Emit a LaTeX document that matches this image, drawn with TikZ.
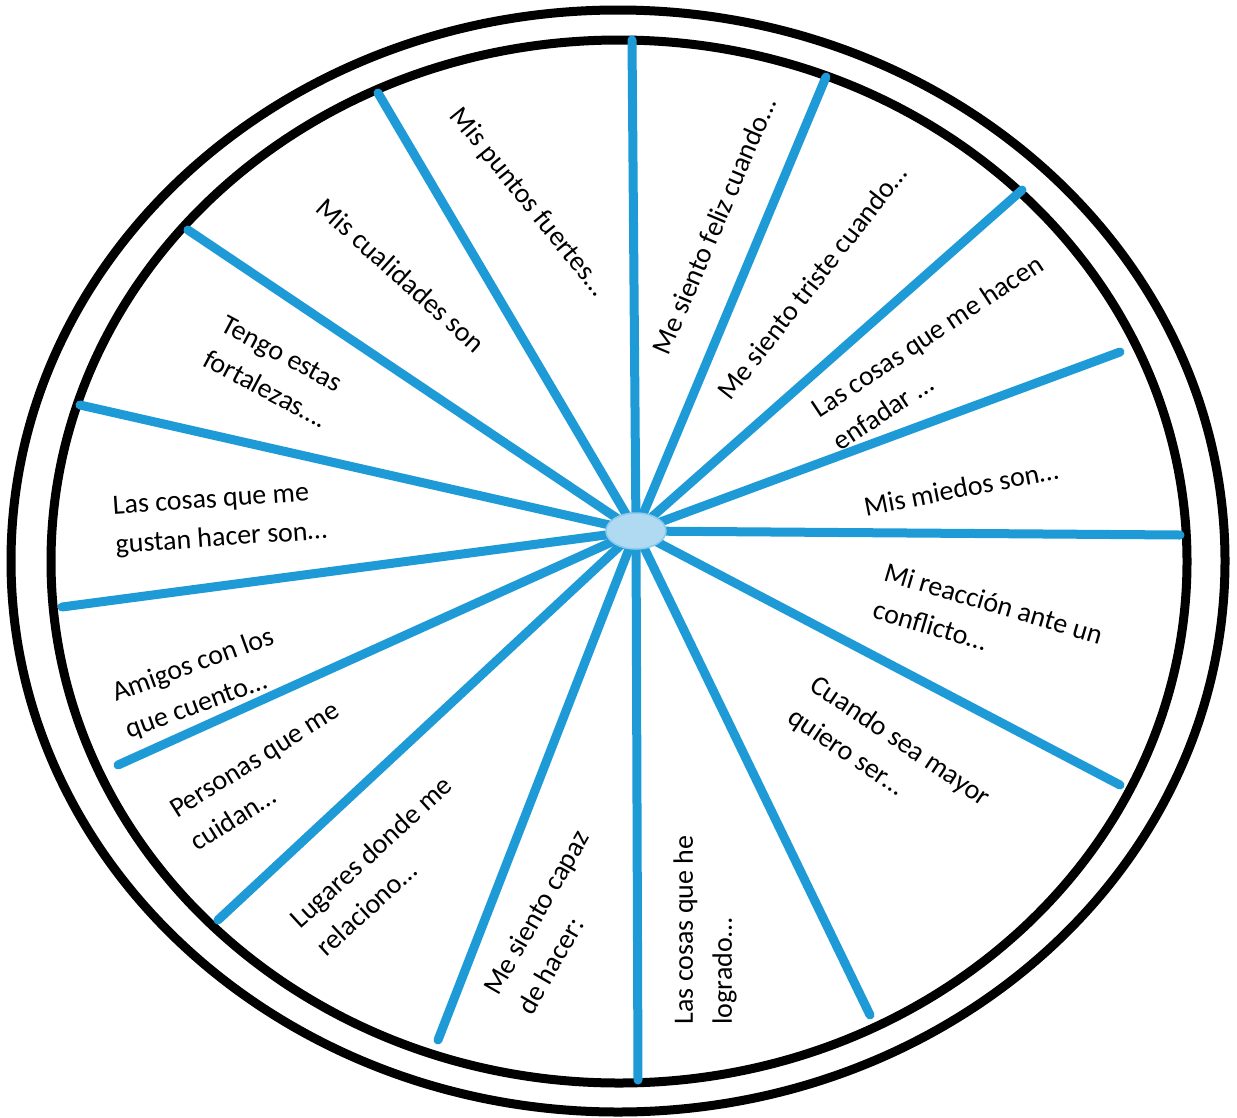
\documentclass[tikz,border=0pt]{standalone}
\usepackage{fontspec}
\setmainfont{Carlito}
\usetikzlibrary{shapes.geometric}
\definecolor{spokeblue}{RGB}{30,155,215}
\definecolor{hubfill}{RGB}{176,218,242}
\definecolor{hubline}{RGB}{140,202,236}
\begin{document}
\begin{tikzpicture}[x=1pt,y=-1pt,
  rim/.style={draw=black,line width=9pt},
  spoke/.style={draw=spokeblue,line width=9pt,line cap=round},
  lbl/.style={font=\fontsize{28}{39}\selectfont,align=left,inner sep=0pt,text=black},
  hubst/.style={ellipse,fill=hubfill,draw=hubline,line width=1.5pt,minimum width=60pt,minimum height=36pt,inner sep=0pt}]
\useasboundingbox[fill=white] (0,0) rectangle (1237,1117);
% rims
\draw[rim] (618,561) ellipse [x radius=607pt, y radius=551pt];
\draw[rim] (619,561.5) ellipse [x radius=568pt, y radius=521.5pt];
% hub centre and spoke ends
\coordinate (c) at (636,531);
\coordinate (e1) at (632,40);
\coordinate (e2) at (826,77);
\coordinate (e3) at (1022,190);
\coordinate (e4) at (1120,352);
\coordinate (e5) at (1180,535);
\coordinate (e6) at (1120,785);
\coordinate (e7) at (870,1015);
\coordinate (e8) at (638,1080);
\coordinate (e9) at (438,1040);
\coordinate (e10) at (218,920);
\coordinate (e11) at (118,765);
\coordinate (e12) at (62,607);
\coordinate (e13) at (80,405);
\coordinate (e14) at (188,230);
\coordinate (e15) at (378,93);
\foreach \i in {1,...,15} \draw[spoke] (c) -- (e\i);
\node[hubst] (hub) at (c) {};
% labels
\node[lbl,rotate=-51] (l1) at (528,202) {Mis puntos fuertes…};
\node[lbl,rotate=67] (l2) at (714,226) {Me siento feliz cuando…};
\node[lbl,rotate=52] (l3) at (812,282) {Me siento triste cuando…};
\node[lbl,rotate=33.5] (l4) at (938,352) {Las cosas que me hacen\\enfadar …};
\node[lbl,rotate=11] (l5) at (961,488) {Mis miedos son…};
\node[lbl,rotate=-16.5] (l6) at (988,622) {Mi reacción ante un\\conflicto…};
\node[lbl,rotate=-34] (l7) at (889,758) {Cuando sea mayor\\quiero ser…};
\node[lbl,rotate=90] (l8) at (705,930) {Las cosas que he\\logrado…};
\node[lbl,rotate=60] (l9) at (553,922) {Me siento capaz\\de hacer:};
\node[lbl,rotate=42.5] (l10) at (384,866) {Lugares donde me\\relaciono…};
\node[lbl,rotate=32] (l11) at (265,776) {Personas que me\\cuidan…};
\node[lbl,rotate=20] (l12) at (200,684) {Amigos con los\\que cuento…};
\node[lbl,rotate=4] (l13) at (220,520) {Las cosas que me\\gustan hacer son…};
\node[lbl,rotate=-28] (l14) at (275,372) {Tengo estas\\fortalezas….};
\node[lbl,rotate=-42] (l15) at (401,275) {Mis cualidades son};
\end{tikzpicture}
\end{document}
